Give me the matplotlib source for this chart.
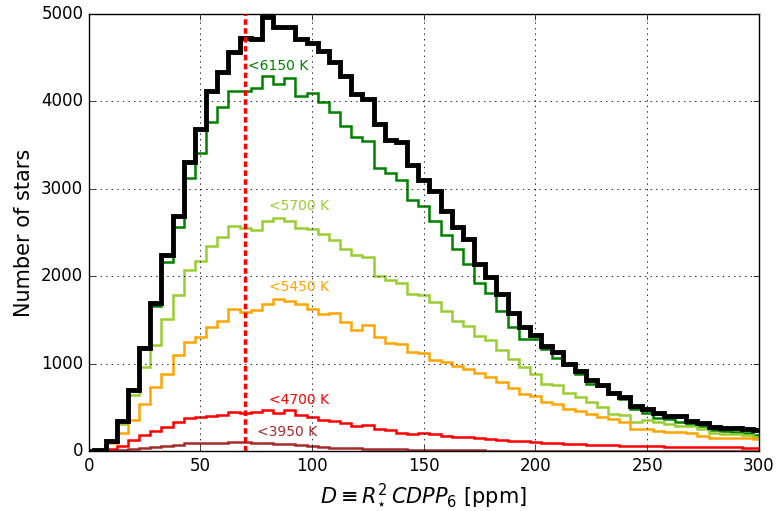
import numpy as np
import matplotlib
matplotlib.use("Agg")
import matplotlib.pyplot as plt

# bin centres every 5 ppm, 0..300
bin_centres = np.arange(0, 305, 5)
bin_edges = np.append(bin_centres - 2.5, bin_centres[-1] + 2.5)

all_stars = [0, 15, 120, 340, 700, 1180, 1690, 2240, 2690, 3310, 3683,
             4115, 4340, 4565, 4724, 4707, 4958, 4853, 4853, 4713, 4670,
             4570, 4444, 4292, 4078, 4026, 3737, 3556, 3531, 3274, 3100,
             2975, 2742, 2566, 2424, 2142, 1990, 1800, 1578, 1425, 1324,
             1200, 1134, 1001, 915, 810, 762, 670, 617, 514, 480,
             440, 405, 398, 350, 325, 278, 266, 262, 255, 244]
t6150 = [0, 15, 115, 340, 710, 1195, 1660, 2165, 2561, 3124, 3410,
         3760, 3930, 4121, 4121, 4152, 4292, 4197, 4266, 4060, 4090,
         3988, 3874, 3721, 3588, 3550, 3238, 3177, 3101, 2873, 2808,
         2637, 2475, 2308, 2142, 1924, 1809, 1606, 1419, 1286, 1280,
         1163, 1068, 1001, 881, 772, 748, 672, 596, 486, 437,
         383, 364, 329, 312, 291, 240, 228, 225, 208, 183]
t5700 = [0, 10, 100, 312, 640, 960, 1218, 1511, 1790, 2070, 2177,
         2350, 2447, 2580, 2550, 2532, 2637, 2667, 2628, 2550, 2535,
         2480, 2416, 2310, 2240, 2222, 2003, 1956, 1923, 1795, 1780,
         1705, 1606, 1485, 1436, 1315, 1276, 1153, 1058, 960, 887,
         772, 753, 670, 620, 563, 506, 430, 419, 335, 354,
         335, 316, 289, 289, 259, 213, 202, 202, 183, 164]
t5450 = [0, 5, 91, 205, 361, 540, 730, 883, 1100, 1244, 1309,
         1423, 1484, 1621, 1590, 1617, 1678, 1743, 1716, 1680, 1629,
         1568, 1585, 1476, 1389, 1438, 1305, 1237, 1225, 1134, 1120,
         1042, 1025, 972, 944, 890, 843, 791, 725, 650, 630,
         559, 538, 487, 464, 420, 392, 363, 338, 249, 250,
         236, 225, 215, 208, 177, 154, 150, 148, 148, 135]
t4700 = [0, 8, 27, 57, 133, 190, 228, 274, 331, 380, 388,
         400, 410, 453, 441, 449, 476, 441, 468, 411, 386,
         362, 350, 318, 285, 303, 255, 240, 205, 192, 210,
         195, 178, 168, 158, 150, 138, 128, 120, 112, 105,
         95, 90, 86, 80, 76, 70, 66, 62, 60, 57,
         55, 52, 50, 49, 47, 45, 44, 43, 42, 42]
t3950 = [0, 3, 8, 19, 27, 38, 46, 57, 76, 91, 99,
         95, 95, 107, 100, 97, 95, 88, 80, 68, 57,
         49, 42, 38, 34, 30, 23, 27, 30, 19, 18,
         15, 14, 12, 10, 9, 8, 7, 6, 6, 5,
         4, 4, 4, 3, 3, 3, 3, 3, 2, 2,
         2, 2, 2, 2, 2, 2, 2, 2, 2, 2]

subsets = [
    (t6150, "green", "<6150 K", 85, 4400),
    (t5700, "yellowgreen", "<5700 K", 94, 2800),
    (t5450, "orange", "<5450 K", 94, 1880),
    (t4700, "red", "<4700 K", 94, 590),
    (t3950, "brown", "<3950 K", 89, 225),
]

d_cut = 70

plt.style.use("classic")
plt.rcParams["mathtext.fontset"] = "dejavusans"
plt.rcParams["lines.scale_dashes"] = False
fig = plt.figure(figsize=(7.79, 5.11), dpi=100, facecolor="white")
ax = fig.add_axes([0.114, 0.117, 0.86, 0.856])

for vals, color, label, tx, ty in subsets:
    ax.stairs(vals, bin_edges, color=color, linewidth=1.8, zorder=2)
    ax.text(tx, ty, label, color=color, fontsize=10, ha="center", va="center")

ax.stairs(all_stars, bin_edges, color="black", linewidth=3.5, zorder=3)

ax.axvline(d_cut, color="red", linewidth=2.5, linestyle=(0, (4, 2.4)), zorder=4)

ax.set_xlim(0, 300)
ax.set_ylim(0, 5000)
ax.grid(True, color="black", linestyle=":", linewidth=0.6)
ax.tick_params(labelsize=12)
ax.set_xlabel(r"$D \equiv R_{\star}^{2}\,CDPP_{6}$ [ppm]", fontsize=15)
ax.set_ylabel("Number of stars", fontsize=15)

fig.savefig("out.png", dpi=100, facecolor="white")
